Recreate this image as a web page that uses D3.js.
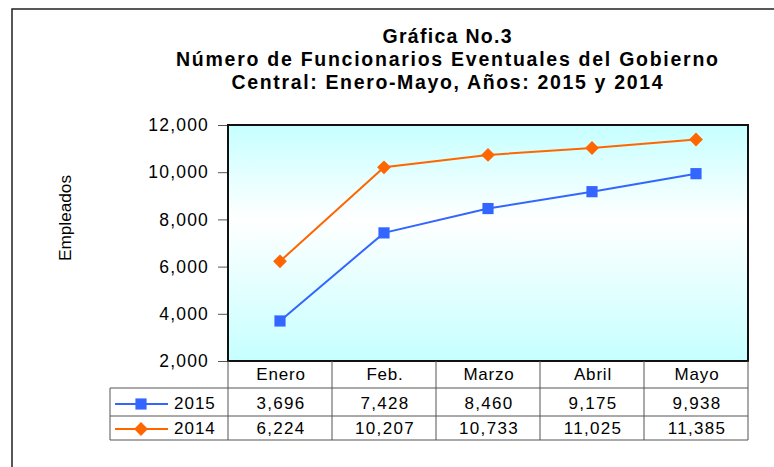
<!DOCTYPE html>
<html>
<head>
<meta charset="utf-8">
<script src="https://cdn.jsdelivr.net/npm/d3@7"></script>
<style>
  body { margin: 0; background: #fff; }
  svg { display: block; font-family: "Liberation Sans", Arial, sans-serif; }
</style>
</head>
<body>
<svg id="chart" width="774" height="467"></svg>
<script>
var months = ["Enero", "Feb.", "Marzo", "Abril", "Mayo"];
var values2015 = [3696, 7428, 8460, 9175, 9938];
var values2014 = [6224, 10207, 10733, 11025, 11385];
var yTicks = [2000, 4000, 6000, 8000, 10000, 12000];
var titleLines = [
  "Gráfica No.3",
  "Número de Funcionarios Eventuales del Gobierno",
  "Central: Enero-Mayo, Años: 2015 y 2014"
];

var series = [
  { name: "2015", values: values2015, color: "#3366ff", size: 125, rot: 0 },
  { name: "2014", values: values2014, color: "#ff6600", size: 95, rot: 45 }
];

var plot = { left: 228, top: 125, right: 748, bottom: 361 };
var rows = { header: 388, r1: 416, r2: 440, legendLeft: 110 };

var svg = d3.select("#chart");
var fmt = d3.format(",");

// outer frame
svg.append("rect")
  .attr("x", 12).attr("y", 9)
  .attr("width", 800).attr("height", 500)
  .attr("fill", "none").attr("stroke", "#222").attr("stroke-width", 1.5);

// titles
var titleWidths = [129, 542, 431];
var titleY = [43, 66, 89];
titleLines.forEach(function (t, i) {
  svg.append("text")
    .attr("x", 447).attr("y", titleY[i])
    .attr("text-anchor", "middle")
    .attr("font-size", 19.5).attr("font-weight", "bold")
    .attr("textLength", titleWidths[i]).attr("lengthAdjust", "spacing")
    .text(t);
});

var x = d3.scaleBand().domain(months).range([plot.left, plot.right]).padding(0);
var y = d3.scaleLinear().domain([2000, 12000]).range([plot.bottom, plot.top]);
var cx = function (i) { return x(months[i]) + x.bandwidth() / 2; };

// background gradient
var grad = svg.append("defs").append("linearGradient")
  .attr("id", "bg").attr("x1", 0).attr("y1", 0).attr("x2", 0).attr("y2", 1);
grad.append("stop").attr("offset", "0%").attr("stop-color", "#c6ffff");
grad.append("stop").attr("offset", "40%").attr("stop-color", "#ffffff");
grad.append("stop").attr("offset", "100%").attr("stop-color", "#c6ffff");

svg.append("rect")
  .attr("x", plot.left).attr("y", plot.top)
  .attr("width", plot.right - plot.left).attr("height", plot.bottom - plot.top)
  .attr("fill", "url(#bg)");

// y axis
var yAxis = svg.append("g")
  .attr("transform", "translate(" + plot.left + ",0)")
  .call(d3.axisLeft(y).tickValues(yTicks).tickFormat(fmt).tickSize(10).tickPadding(9));
yAxis.select(".domain").remove();
yAxis.selectAll(".tick line").attr("stroke", "#555");
yAxis.selectAll(".tick text")
  .attr("font-size", 17.5).attr("fill", "#000")
  .attr("font-family", "Liberation Sans, Arial, sans-serif")
  .attr("letter-spacing", 1.2);

svg.append("text")
  .attr("transform", "translate(71,218) rotate(-90)")
  .attr("text-anchor", "middle")
  .attr("font-size", 16)
  .attr("textLength", 86).attr("lengthAdjust", "spacingAndGlyphs")
  .text("Empleados");

// lines and markers
var line = d3.line()
  .x(function (d, i) { return cx(i); })
  .y(function (d) { return y(d); });

function marker(sel, s) {
  sel.attr("d", d3.symbol().type(d3.symbolSquare).size(s.size))
    .attr("fill", s.color);
}

series.forEach(function (s) {
  svg.append("path")
    .datum(s.values)
    .attr("d", line)
    .attr("fill", "none")
    .attr("stroke", s.color)
    .attr("stroke-width", 2);
  svg.selectAll(null)
    .data(s.values)
    .enter()
    .append("path")
    .attr("transform", function (d, i) {
      return "translate(" + cx(i) + "," + y(d) + ") rotate(" + s.rot + ")";
    })
    .call(marker, s);
});

// plot frame
svg.append("rect")
  .attr("x", plot.left).attr("y", plot.top)
  .attr("width", plot.right - plot.left).attr("height", plot.bottom - plot.top)
  .attr("fill", "none").attr("stroke", "#111").attr("stroke-width", 2);

// data table
var grid = svg.append("g").attr("stroke", "#555").attr("stroke-width", 1);
months.forEach(function (m) {
  grid.append("line")
    .attr("x1", x(m)).attr("x2", x(m))
    .attr("y1", plot.bottom).attr("y2", rows.r2);
});
grid.append("line")
  .attr("x1", plot.right).attr("x2", plot.right)
  .attr("y1", plot.bottom).attr("y2", rows.r2);
grid.append("line")
  .attr("x1", rows.legendLeft).attr("x2", rows.legendLeft)
  .attr("y1", rows.header).attr("y2", rows.r2);
[rows.header, rows.r1, rows.r2].forEach(function (ry) {
  grid.append("line")
    .attr("x1", rows.legendLeft).attr("x2", plot.right)
    .attr("y1", ry).attr("y2", ry);
});

svg.selectAll(".hdr")
  .data(months)
  .enter()
  .append("text")
  .attr("x", function (d, i) { return cx(i) + 1; })
  .attr("y", 380)
  .attr("text-anchor", "middle")
  .attr("font-size", 17)
  .attr("letter-spacing", 0.8)
  .text(function (d) { return d; });

var rowY = [409, 434];
series.forEach(function (s, r) {
  svg.selectAll(null)
    .data(s.values)
    .enter()
    .append("text")
    .attr("x", function (d, i) { return cx(i) + 1; })
    .attr("y", rowY[r])
    .attr("text-anchor", "middle")
    .attr("font-size", 17)
    .attr("letter-spacing", 1.3)
    .text(function (d) { return fmt(d); });

  var ly = rowY[r] - 5;
  svg.append("line")
    .attr("x1", 115).attr("x2", 168)
    .attr("y1", ly).attr("y2", ly)
    .attr("stroke", s.color).attr("stroke-width", 2);
  svg.append("path")
    .attr("transform", "translate(141," + ly + ") rotate(" + s.rot + ")")
    .call(marker, s);
  svg.append("text")
    .attr("x", 174).attr("y", rowY[r])
    .attr("font-size", 17)
    .attr("letter-spacing", 1)
    .text(s.name);
});
</script>
</body>
</html>
